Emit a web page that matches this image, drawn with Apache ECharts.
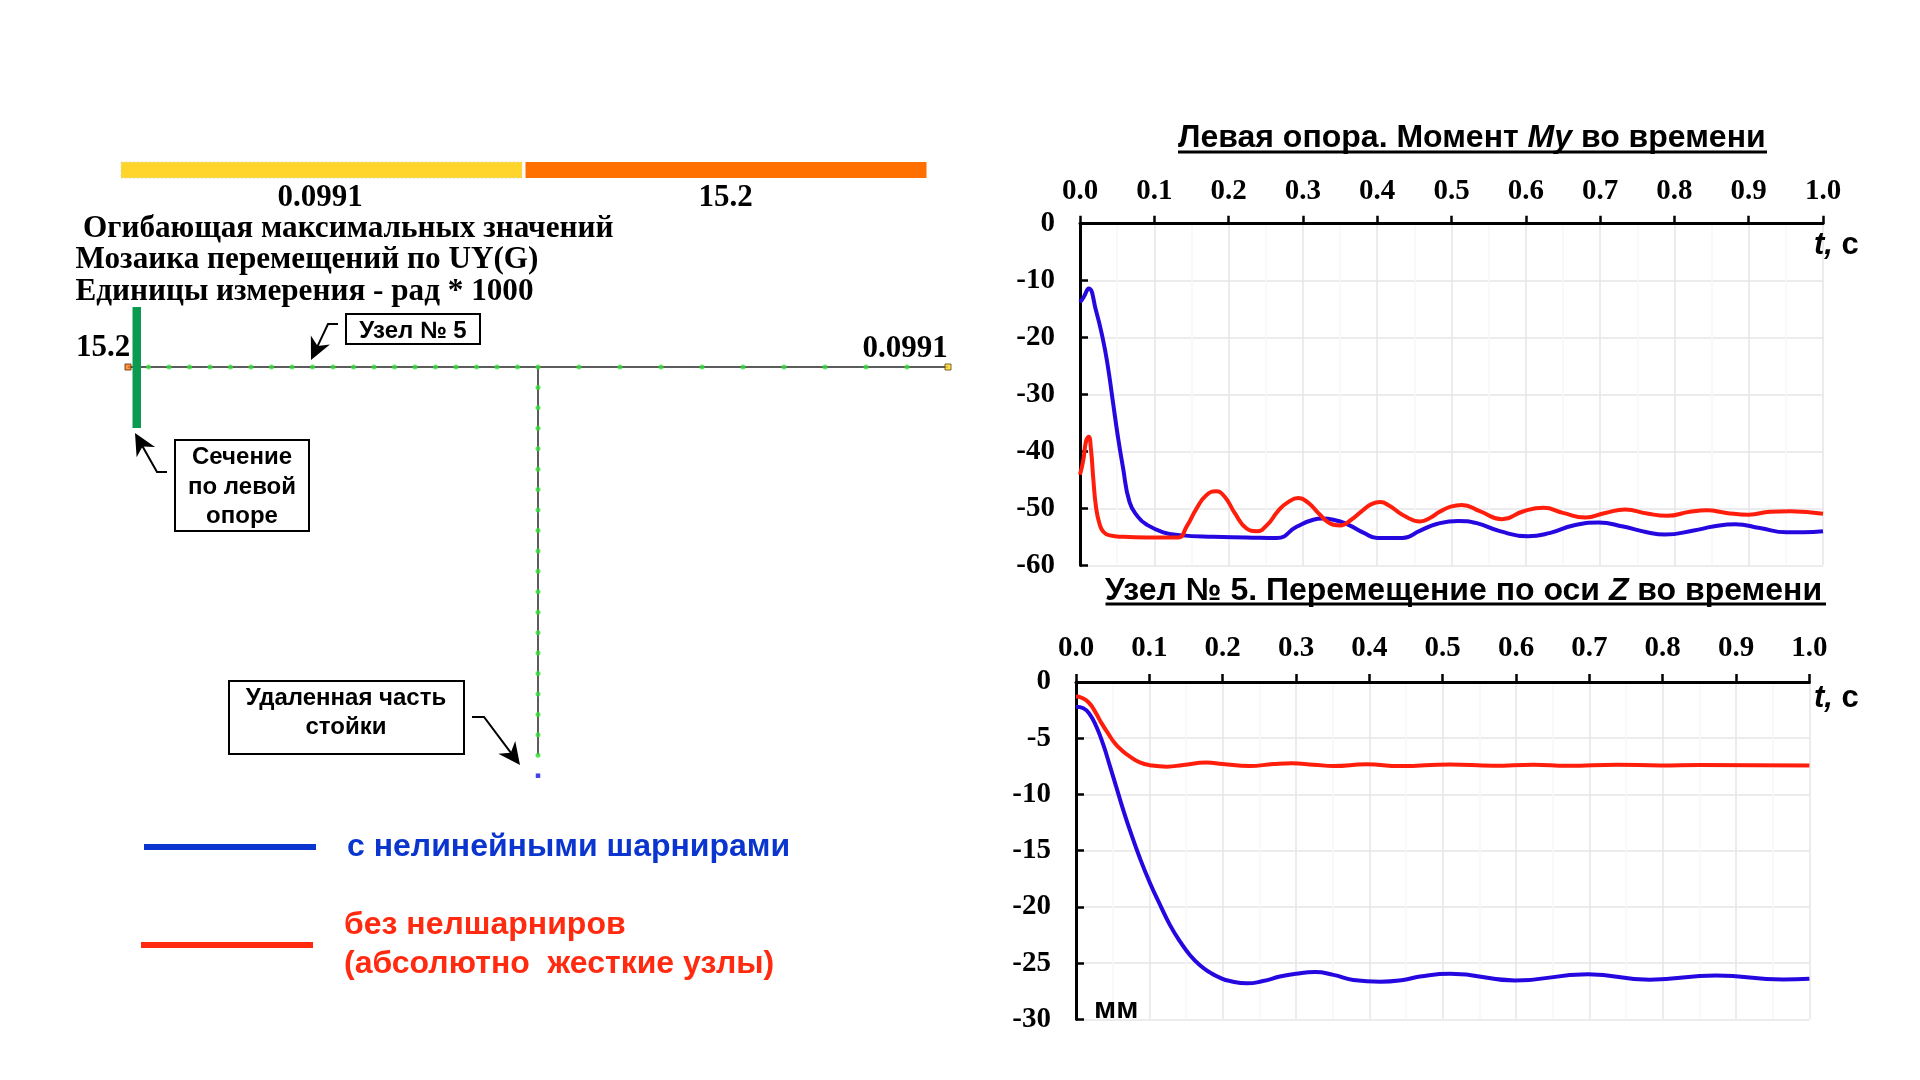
<!DOCTYPE html>
<html><head><meta charset="utf-8">
<style>html,body{margin:0;padding:0;background:#fff}#c{width:1920px;height:1080px}</style>
<script src="https://cdn.jsdelivr.net/npm/echarts@6/dist/echarts.min.js"></script>
</head><body><div id="c"></div>
<script>
// ---- data ----
const nameBlue = 'с нелинейными шарнирами';
const nameRed = 'без нелшарниров\n(абсолютно  жесткие узлы)';
const timeTicks = 0.1;

const momentBlueT = [0,.0045,.0117,.0216,.031,.0374,.044,.051,.0577,.0667,.078,.089,.112,.134,.179,.224,.265,.292,.314,.326,.341,.36,.382,.4,.434,.458,.48,.509,.534,.565,.603,.633,.664,.698,.731,.763,.787,.826,.852,.882,.915,.951,.974,1];
const momentBlueV = [-13.8,-13,-11.4,-15.3,-20.4,-25,-31,-37.4,-42.7,-48.9,-51.5,-52.8,-54.2,-54.7,-55,-55.1,-55.2,-53.2,-52,-51.8,-52,-52.8,-54.3,-55.2,-55.2,-53.9,-52.75,-52.2,-52.6,-54,-54.9,-54.3,-53,-52.5,-53.2,-54.2,-54.6,-53.9,-53.2,-52.8,-53.45,-54.2,-54.2,-54];
const momentRedT = [0,.0045,.008,.0117,.0148,.018,.0215,.026,.0314,.04,.058,.09,.132,.1435,.157,.17,.183,.195,.2086,.224,.238,.252,.267,.28,.294,.307,.322,.336,.35,.365,.381,.393,.404,.417,.435,.458,.471,.484,.499,.514,.538,.568,.597,.624,.65,.68,.707,.734,.763,.79,.821,.844,.87,.9,.929,.956,1];
const momentRedV = [-44.1,-41.5,-38.3,-37.4,-39.7,-45,-49.7,-52.6,-54.1,-54.75,-55,-55.1,-55.1,-53.2,-50,-47.7,-47,-48,-50.9,-53.5,-54,-52.9,-50.4,-48.9,-48.2,-49,-51,-52.6,-53,-52,-50.3,-49.2,-48.9,-49.6,-51.2,-52.3,-51.7,-50.6,-49.7,-49.4,-50.5,-51.9,-50.5,-49.9,-50.8,-51.6,-50.8,-50.2,-50.9,-51.3,-50.6,-50.35,-50.8,-51.1,-50.6,-50.5,-50.95];

const dispBlueT = [0,.01,.019,.028,.0373,.0464,.0555,.0645,.0736,.0873,.101,.1145,.128,.142,.1555,.169,.183,.196,.21,.233,.255,.278,.3,.326,.351,.378,.415,.446,.469,.51,.5985,.698,.782,.873,.964,1];
const dispBlueV = [-2.2,-2.34,-2.9,-4,-5.6,-7.5,-9.46,-11.4,-13.2,-15.7,-17.9,-19.8,-21.6,-23.1,-24.3,-25.2,-25.85,-26.3,-26.6,-26.8,-26.6,-26.2,-25.95,-25.8,-26.05,-26.5,-26.65,-26.5,-26.2,-25.95,-26.54,-26,-26.48,-26.1,-26.45,-26.39];
const dispRedT = [0,.0077,.017,.026,.035,.044,.053,.062,.0736,.087,.101,.124,.146,.178,.2,.2365,.269,.294,.324,.351,.396,.442,.51,.569,.624,.67,.738,.797,.85,1];
const dispRedV = [-1.3,-1.4,-1.8,-2.64,-3.68,-4.6,-5.45,-6.05,-6.64,-7.15,-7.4,-7.53,-7.38,-7.17,-7.3,-7.47,-7.3,-7.23,-7.35,-7.47,-7.32,-7.48,-7.33,-7.45,-7.36,-7.45,-7.36,-7.42,-7.39,-7.42];

// frame scheme: node positions in panel units
const beamNodesX = [1,2,3,4,5,6,7,8,9,10,11,12,13,14,15,16,17,18,19,20,22,24,26,28,30,32,34,36,38];
const postNodesY = [-1,-2,-3,-4,-5,-6,-7,-8,-9,-10,-11,-12,-13,-14,-15,-16,-17,-18,-19];
const scaleValues = ['0.0991','15.2'];

// ---- helpers ----
const zip = (a,b)=>a.map((v,i)=>[v,b[i]]);
const cBlue='#2508e0', cRed='#ff1e0c';
const serif='"Liberation Serif"', sans='"Liberation Sans"';
const txt=(text,x,y,font,extra={})=>({type:'text',z:20,style:Object.assign({text,x,y,font,fill:'#000',textAlign:'left',textVerticalAlign:'middle'},extra)});
const rect=(x,y,w,h,fill,extra={})=>({type:'rect',z:20,shape:{x,y,width:w,height:h},style:Object.assign({fill},extra)});
const box=(x,y,w,h)=>rect(x,y,w,h,'#fff',{stroke:'#000',lineWidth:2});
function arrow(points,size){
  const n=points.length, a=points[n-2], b=points[n-1];
  const ang=Math.atan2(b[1]-a[1],b[0]-a[0]);
  const p=(d,s)=>[b[0]-d*Math.cos(ang)-s*Math.sin(ang), b[1]-d*Math.sin(ang)+s*Math.cos(ang)];
  const wide=size*0.48;
  return [
    {type:'polyline',z:20,shape:{points:points.slice(0,n-1).concat([p(size*0.6,0)])},style:{stroke:'#000',lineWidth:2,fill:null}},
    {type:'polygon',z:20,shape:{points:[b,p(size,wide),p(size*0.7,0),p(size,-wide)]},style:{fill:'#000'}}
  ];
}
const hline=(x1,x2,y,w)=>({type:'line',z:20,shape:{x1,y1:y,x2,y2:y},style:{stroke:'#000',lineWidth:w}});

const tickFont={fontFamily:serif,fontWeight:'bold',fontSize:29,color:'#000'};
function xAxis(gridIndex,margin){
  return {type:'value',gridIndex,position:'top',min:0,max:1,interval:timeTicks,
    axisLine:{show:true,onZero:false,lineStyle:{color:'#000',width:3}},
    axisTick:{show:true,length:8,lineStyle:{color:'#000',width:2.5}},
    axisLabel:Object.assign({margin,formatter:v=>v.toFixed(1),hideOverlap:false},tickFont),
    splitLine:{show:true,lineStyle:{color:'#e6e6ea',width:1.5}},
    minorTick:{show:false,splitNumber:2},
    minorSplitLine:{show:true,lineStyle:{color:'#f7f7f9',width:1.5}}};
}
function yAxis(gridIndex,min,interval){
  return {type:'value',gridIndex,min,max:0,interval,
    axisLine:{show:true,onZero:false,lineStyle:{color:'#000',width:3}},
    axisTick:{show:true,inside:true,length:8,lineStyle:{color:'#000',width:2.5}},
    axisLabel:Object.assign({margin:25,hideOverlap:false},tickFont),
    splitLine:{show:true,lineStyle:{color:'#e6e6ea',width:1.5}}};
}
function curve(name,data,color,i){
  return {type:'line',name,xAxisIndex:i,yAxisIndex:i,data,showSymbol:false,symbol:'none',smooth:0.5,
    lineStyle:{color,width:4},itemStyle:{color},z:5,silent:true,animation:false,clip:false};
}
const hidden=(gridIndex,min,max)=>({type:'value',gridIndex,min,max,show:false,splitLine:{show:false}});
const panelLine=(data)=>({type:'line',xAxisIndex:2,yAxisIndex:2,data,symbol:'none',lineStyle:{color:'#5c5c5c',width:2},z:3,silent:true,animation:false});
const panelDots=(data,symbol,symbolSize,color,border)=>({type:'scatter',xAxisIndex:2,yAxisIndex:2,data,symbol,symbolSize,
  itemStyle:{color,borderColor:border||color,borderWidth:border?1:0},z:4,silent:true,animation:false,clip:false});

const titleRich={a:{fontFamily:sans,fontWeight:'bold',fontSize:32,color:'#000'},b:{fontFamily:sans,fontWeight:'bold',fontStyle:'italic',fontSize:32,color:'#000'}};
const unitRich={a:{fontFamily:sans,fontWeight:'bold',fontSize:31},b:{fontFamily:sans,fontWeight:'bold',fontStyle:'italic',fontSize:31}};

const option={
  backgroundColor:'#fff',animation:false,
  title:[
    {text:'{a|Левая опора. Момент }{b|My}{a| во времени}',left:1178,top:122,padding:0,textStyle:{rich:titleRich}},
    {text:'{a|Узел № 5. Перемещение по оси }{b|Z}{a| во времени}',left:1105,top:575,padding:0,textStyle:{rich:titleRich}}
  ],
  legend:[
    {data:[{name:nameBlue,itemStyle:{color:'#0a35cf'}}],left:144,top:831,orient:'vertical',icon:'rect',itemWidth:172,itemHeight:6,selectedMode:false,padding:0,
      textStyle:{color:'#0a35cf',fontFamily:sans,fontWeight:'bold',fontSize:32,padding:[8,0,0,26]}},
    {data:[{name:nameRed,itemStyle:{color:'#ff2a0f'}}],left:141,top:902,orient:'vertical',icon:'rect',itemWidth:172,itemHeight:6,selectedMode:false,padding:0,
      textStyle:{color:'#ff2a0f',fontFamily:sans,fontWeight:'bold',fontSize:32,lineHeight:39,padding:[8,0,0,26]}}
  ],
  grid:[
    {left:1080,top:223.7,width:743,height:341.6},
    {left:1076,top:682,width:733.4,height:337.3},
    {left:128,top:367,width:820,height:408.7}
  ],
  xAxis:[xAxis(0,18),xAxis(1,19),hidden(2,0,40)],
  yAxis:[yAxis(0,-60,10),yAxis(1,-30,5),hidden(2,-20,0)],
  series:[
    curve(nameBlue,zip(momentBlueT,momentBlueV),cBlue,0),
    curve(nameRed,zip(momentRedT,momentRedV),cRed,0),
    curve(nameBlue,zip(dispBlueT,dispBlueV),cBlue,1),
    curve(nameRed,zip(dispRedT,dispRedV),cRed,1),
    panelLine([[0,0],[40,0]]),
    panelLine([[20,0],[20,-19]]),
    panelDots(beamNodesX.map(x=>[x,0]),'circle',5,'#35e03a'),
    panelDots(postNodesY.map(y=>[20,y]),'circle',5,'#35e03a'),
    panelDots([[0,0]],'rect',6,'#ff7a10','#5a2a00'),
    panelDots([[40,0]],'rect',6,'#ffd42b','#5a4a00'),
    panelDots([[20,-20]],'rect',4.5,'#1410e0')
  ],
  graphic:{elements:[
    rect(121,162,401,16,'#ffd42b',{stroke:'#e8e0b0',lineWidth:1,lineDash:[2,2]}),
    rect(525.5,162,401,16,'#ff7000'),
    txt(scaleValues[0],320,198,'bold 31px '+serif,{textAlign:'center'}),
    txt(scaleValues[1],725.5,198,'bold 31px '+serif,{textAlign:'center'}),
    txt('Огибающая максимальных значений',83,229,'bold 31.2px '+serif),
    txt('Мозаика перемещений по UY(G)',75.5,260,'bold 31.2px '+serif),
    txt('Единицы измерения - рад * 1000',75.5,292,'bold 31.2px '+serif),
    txt(scaleValues[1],76,348,'bold 31px '+serif),
    txt(scaleValues[0],862.5,349,'bold 31px '+serif),
    rect(132.5,307,8.5,121,'#0a9b50'),
    box(346,314,134,30), txt('Узел № 5',413,331,'bold 24px '+sans,{textAlign:'center'}),
    ...arrow([[338,324],[328,324],[311,360]],22),
    box(175,440,134,91),
    txt('Сечение',242,457,'bold 24px '+sans,{textAlign:'center'}),
    txt('по левой',242,487,'bold 24px '+sans,{textAlign:'center'}),
    txt('опоре',242,516,'bold 24px '+sans,{textAlign:'center'}),
    ...arrow([[167,472],[157,472],[135,433]],22),
    box(229,681,235,73),
    txt('Удаленная часть',346,698,'bold 24px '+sans,{textAlign:'center'}),
    txt('стойки',346,727,'bold 24px '+sans,{textAlign:'center'}),
    ...arrow([[472,717],[484,717],[520,765]],22),
    hline(1178,1767,152,3),
    hline(1105.5,1826,604,3),
    {type:'text',z:20,style:{x:1814,y:245,textVerticalAlign:'middle',text:'{b|t,}{a| с}',rich:unitRich,fill:'#000'}},
    {type:'text',z:20,style:{x:1814,y:698,textVerticalAlign:'middle',text:'{b|t,}{a| с}',rich:unitRich,fill:'#000'}},
    txt('мм',1094,1010,'bold 30px '+sans)
  ]}
};
const chart=echarts.init(document.getElementById('c'),null,{renderer:'canvas',width:1920,height:1080});
chart.setOption(option);
</script></body></html>
